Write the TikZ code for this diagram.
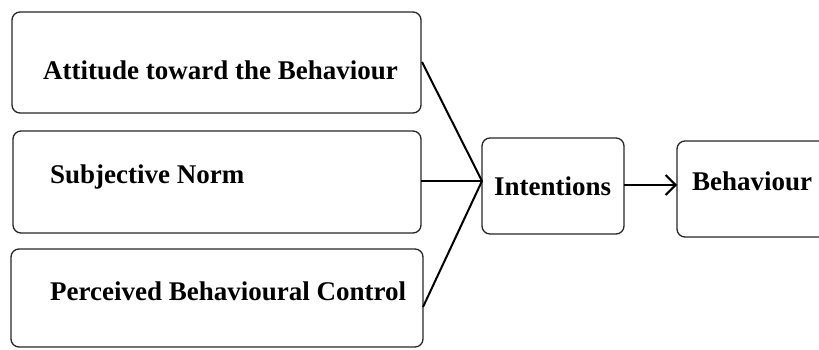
\documentclass[tikz,border=0pt]{standalone}
\usepackage{fontspec}
\setmainfont{Liberation Serif}
\usetikzlibrary{arrows.meta}
\begin{document}
\begin{tikzpicture}[x=1pt,y=-1pt,
  box/.style={draw=black!85,line width=1.3pt,rounded corners=8pt,inner sep=0pt},
  lbl/.style={anchor=base west,inner sep=0pt,font=\fontsize{27}{30}\selectfont\bfseries},
  conn/.style={draw=black,line width=2pt}]
\useasboundingbox (0,0) rectangle (819,350);
\node[box,minimum width=409pt,minimum height=101pt] (b1) at (216.5,62.5) {};
\node[box,minimum width=408pt,minimum height=102pt] (b2) at (217,182) {};
\node[box,minimum width=412pt,minimum height=98pt] (b3) at (217,298) {};
\node[box,minimum width=142pt,minimum height=96pt] (int) at (553,186) {};
\node[box,minimum width=153pt,minimum height=96pt] (beh) at (753.5,189) {};
\node[lbl] (t1) at (43,80) {Attitude toward the Behaviour};
\node[lbl] (t2) at (50,183) {Subjective Norm};
\node[lbl] (t3) at (50,300) {Perceived Behavioural Control};
\node[lbl] (t4) at (494,195) {Intentions};
\node[lbl] (t5) at (692,190) {Behaviour};
\coordinate (cv) at (482,181);
\coordinate (s1) at (422,62);
\coordinate (s2) at (421,181);
\coordinate (s3) at (423,307);
\coordinate (a1) at (624,185);
\coordinate (a2) at (677,185);
\path[conn] (s1) -- (cv);
\path[conn] (s2) -- (cv);
\path[conn] (s3) -- (cv);
\path[conn,-{Straight Barb[length=10pt,width=20pt,line width=2pt]}] (a1) -- (a2);
\end{tikzpicture}
\end{document}
